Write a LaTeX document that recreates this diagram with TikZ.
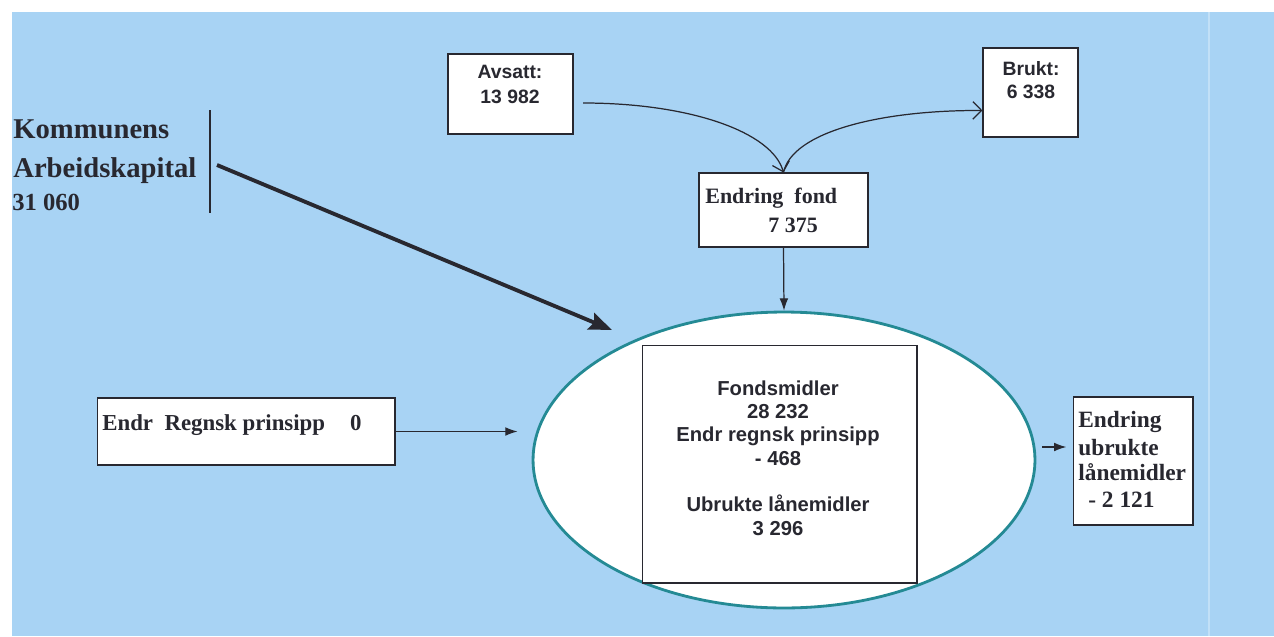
\documentclass[tikz,border=0pt]{standalone}
\usepackage{fontspec}
\setmainfont{Liberation Serif}
\setsansfont{Liberation Sans}
\usetikzlibrary{arrows.meta,shapes.geometric,calc}
\definecolor{bg}{RGB}{168,211,244}
\definecolor{ink}{RGB}{40,40,48}
\definecolor{rim}{RGB}{36,138,148}
\begin{document}
\begin{tikzpicture}[x=0.02cm,y=-0.02cm,
  box/.style={draw=ink, fill=white, line width=0.6pt, inner sep=0pt, rectangle},
  ser/.style={font=\bfseries, inner sep=0pt, anchor=base west, text=ink},
  san/.style={font=\sffamily\bfseries, inner sep=0pt, align=center, text=ink},
  conn/.style={draw=ink, line width=0.7pt},
  tri/.style={conn, -{Latex[length=7pt,width=5pt]}},
  barb/.style={conn, -{Straight Barb[length=5pt,width=10pt]}},
  heavy/.style={draw=ink, line width=2.2pt, -{Stealth[length=13pt,width=10pt,inset=2pt]}}]
\useasboundingbox (0,0) rectangle (1274,636);
\fill[white] (0,0) rectangle (1274,636);
\fill[bg] (12,12) rectangle (1274,636);
\draw[white, opacity=0.3, line width=1.5pt] (1209,12) -- (1209,636);

% boxes
\node[box, minimum width=2.5cm, minimum height=1.6cm] (avs) at (510.5,94) {};
\node[box, minimum width=1.9cm, minimum height=1.78cm] (br) at (1030.5,92.5) {};
\node[box, minimum width=3.38cm, minimum height=1.48cm] (ef) at (783.5,210) {};
\node[box, minimum width=5.96cm, minimum height=1.34cm] (er) at (246,431.5) {};
\node[box, minimum width=2.4cm, minimum height=2.56cm] (ub) at (1133,461) {};
\node[ellipse, draw=rim, fill=white, line width=1.6pt, inner sep=0pt,
      minimum width=10.04cm, minimum height=5.92cm] (ell) at (784,460) {};
\node[box, minimum width=5.5cm, minimum height=4.76cm] (inr) at (779.5,464) {};

% texts
\node[san, font=\sffamily\bfseries\fontsize{11}{14.2}\selectfont] (avst) at (510,84) {Avsatt:\\13 982};
\node[san, font=\sffamily\bfseries\fontsize{11}{13}\selectfont] (brt) at (1031,80) {Brukt:\\6 338};
\node[san, font=\sffamily\bfseries\fontsize{11.5}{13.3}\selectfont] (inrt) at (778,458)
  {Fondsmidler\\28 232\\Endr regnsk prinsipp\\- 468\\[13.3pt]Ubrukte lånemidler\\3 296};

\node[ser, font=\bfseries\fontsize{16.3}{18}\selectfont] (k1) at (13,138) {Kommunens};
\node[ser, font=\bfseries\fontsize{16.3}{18}\selectfont] (k2) at (13,177) {Arbeidskapital};
\node[ser, font=\bfseries\fontsize{14}{16}\selectfont] (k3) at (12,210) {31 060};

\node[ser, font=\bfseries\fontsize{12.5}{14}\selectfont] (eft1) at (705,203) {Endring\ \ fond};
\node[ser, font=\bfseries\fontsize{12.5}{14}\selectfont] (eft2) at (768,232) {7 375};

\node[ser, font=\bfseries\fontsize{13}{14}\selectfont] (ert) at (102,430) {Endr\ \ Regnsk prinsipp\hspace{1.1em}0};

\node[ser, font=\bfseries\fontsize{13.3}{15}\selectfont] (ubt1) at (1078,427) {Endring};
\node[ser, font=\bfseries\fontsize{13.3}{15}\selectfont] (ubt2) at (1078,455) {ubrukte};
\node[ser, font=\bfseries\fontsize{13.3}{15}\selectfont] (ubt3) at (1078,480) {lånemidler};
\node[ser, font=\bfseries\fontsize{13.3}{15}\selectfont] (ubt4) at (1088,507) {- 2 121};

% connectors
\draw[ink, line width=0.8pt] (210,110) -- (210,213);
\coordinate (a1) at (583,103);
\draw[barb] (a1) .. controls (690,103) and (772,132) .. (ef.north);
\draw[barb] (ef.north) .. controls (792,132) and (880,110) .. ($(br.south west)!0.3!(br.north west)$);
\draw[tri] (ef.south) -- (ell.north);
\coordinate (h1) at (217,165);
\coordinate (h2) at (612,330);
\draw[heavy] (h1) -- (h2);
\draw[tri, shorten >=8pt] (er.east) -- (er.east -| ell.west);
\coordinate (s1) at (1042,447);
\draw[tri, shorten >=3.5pt] (s1) -- (s1 -| ub.west);
\end{tikzpicture}
\end{document}
